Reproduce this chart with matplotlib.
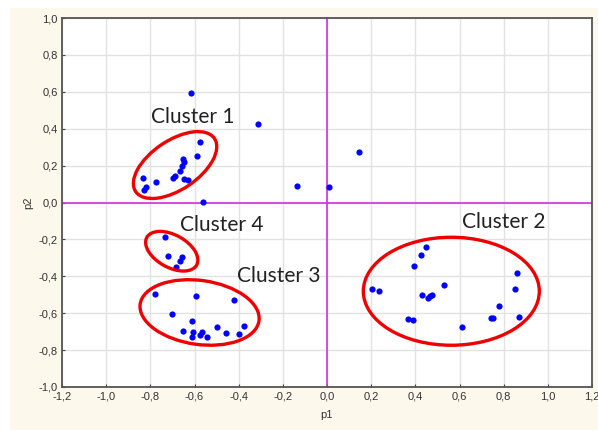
import matplotlib
matplotlib.use("Agg")
import matplotlib.pyplot as plt
from matplotlib.patches import Ellipse, Rectangle
from matplotlib.transforms import ScaledTranslation
import numpy as np

# scores sur les deux premiers axes (p1, p2)
p1_c1 = [-0.575, -0.589, -0.651, -0.648, -0.658, -0.666, -0.688, -0.699, -0.646, -0.628, -0.774, -0.835, -0.820, -0.829, -0.560]
p2_c1 = [0.328, 0.250, 0.234, 0.220, 0.198, 0.172, 0.144, 0.131, 0.129, 0.120, 0.113, 0.133, 0.082, 0.068, 0.001]

p1_c2 = [0.448, 0.424, 0.394, 0.202, 0.237, 0.430, 0.457, 0.466, 0.476, 0.531, 0.368, 0.388, 0.611, 0.743, 0.752, 0.780, 0.859, 0.853, 0.871]
p2_c2 = [-0.241, -0.283, -0.346, -0.471, -0.482, -0.503, -0.516, -0.507, -0.500, -0.449, -0.633, -0.635, -0.677, -0.628, -0.626, -0.559, -0.384, -0.469, -0.619]

p1_c3 = [-0.779, -0.595, -0.423, -0.703, -0.610, -0.651, -0.606, -0.613, -0.565, -0.575, -0.545, -0.497, -0.459, -0.377, -0.397]
p2_c3 = [-0.498, -0.507, -0.530, -0.603, -0.642, -0.698, -0.704, -0.727, -0.704, -0.718, -0.731, -0.673, -0.706, -0.671, -0.713]

p1_c4 = [-0.734, -0.722, -0.658, -0.666, -0.684]
p2_c4 = [-0.185, -0.288, -0.294, -0.315, -0.351]

p1_autres = [-0.616, -0.311, -0.136, 0.009, 0.146]
p2_autres = [0.592, 0.427, 0.089, 0.082, 0.274]

# ellipses : centre (p1, p2), largeur / hauteur en pouces, angle
clusters = ["Cluster 1", "Cluster 2", "Cluster 3", "Cluster 4"]
centres = [(-0.688, 0.203), (0.563, -0.481), (-0.577, -0.596), (-0.703, -0.264)]
tailles = [(0.95, 0.49, 34), (1.76, 1.08, 0), (1.20, 0.64, -8), (0.57, 0.325, -29)]
pos_labels = [(-0.795, 0.463), (0.611, -0.106), (-0.408, -0.398), (-0.666, -0.122)]

fig = plt.figure(figsize=(5.98, 4.30), dpi=100)
fig.patches.append(Rectangle((10 / 598, 0), 1, 1 - 8 / 430, transform=fig.transFigure,
                             facecolor="#fdf8ec", edgecolor="none", zorder=-10))
ax = fig.add_axes([62 / 598, 43 / 430, 530 / 598, 369 / 430])
ax.set_facecolor("white")

ax.grid(True, color="#e2e2e2", linewidth=1)
ax.set_axisbelow(True)
ax.axhline(0, color="#cc33dd", linewidth=1.2, zorder=1)
ax.axvline(0, color="#cc33dd", linewidth=1.2, zorder=1)

tous_p1 = p1_c1 + p1_c2 + p1_c3 + p1_c4 + p1_autres
tous_p2 = p2_c1 + p2_c2 + p2_c3 + p2_c4 + p2_autres
ax.scatter(tous_p1, tous_p2, s=20, color="#0000ff", linewidths=0, zorder=3)

for nom, c, (w, h, a), lp in zip(clusters, centres, tailles, pos_labels):
    tr = fig.dpi_scale_trans + ScaledTranslation(c[0], c[1], ax.transData)
    ax.add_patch(Ellipse((0, 0), w, h, angle=a, transform=tr, fill=False,
                         edgecolor="#ee0000", linewidth=2.4, zorder=4))
    ax.text(lp[0], lp[1], nom, ha="left", va="center", fontsize=15,
            family="Lato", color="#222222", zorder=5)

ax.set_xlim(-1.2, 1.2)
ax.set_ylim(-1.0, 1.0)
xt = np.round(np.arange(-1.2, 1.21, 0.2), 1)
yt = np.round(np.arange(-1.0, 1.01, 0.2), 1)
ax.set_xticks(xt)
ax.set_yticks(yt)
ax.set_xticklabels([f"{v:.1f}".replace(".", ",").replace("-0,0", "0,0") for v in xt])
ax.set_yticklabels([f"{v:.1f}".replace(".", ",").replace("-0,0", "0,0") for v in yt])
ax.tick_params(direction="in", length=2.5, width=0.8, color="#444444",
               labelsize=8, labelcolor="#333333", pad=3)
for lab in ax.get_xticklabels() + ax.get_yticklabels():
    lab.set_family("Liberation Sans")
for s in ax.spines.values():
    s.set_color("#555555")
    s.set_linewidth(1.3)

ax.set_xlabel("p1", fontsize=8, color="#333333", labelpad=6, family="Liberation Sans")
ax.set_ylabel("p2", fontsize=8, color="#333333", labelpad=4, family="Liberation Sans")

fig.savefig("out.png", dpi=100)
